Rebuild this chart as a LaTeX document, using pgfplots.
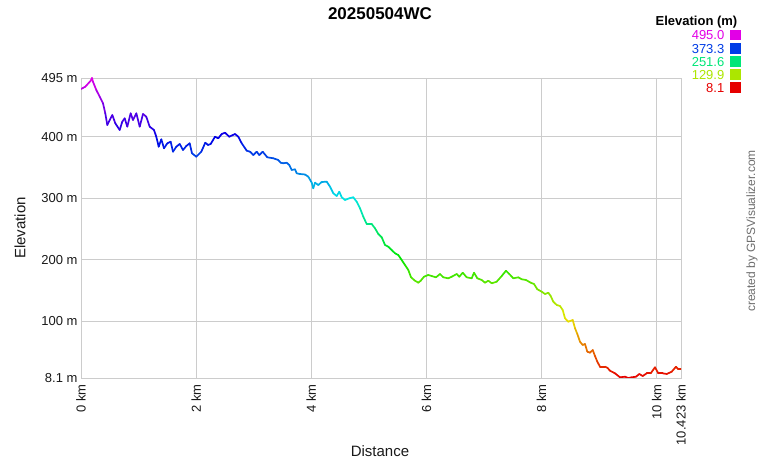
\documentclass[border=0pt]{standalone}
\usepackage{pgfplots}
\pgfplotsset{compat=1.18}
\usepackage{pgfplotstable}
\usepackage{fontspec}
\setmainfont{Liberation Sans}
\definecolor{gridgray}{RGB}{204,204,204}
\definecolor{txtgray}{RGB}{25,25,25}
\definecolor{credgray}{RGB}{110,110,110}
\definecolor{lgA}{RGB}{226,0,230}
\definecolor{lgB}{RGB}{0,60,230}
\definecolor{lgC}{RGB}{0,230,120}
\definecolor{lgD}{RGB}{172,230,0}
\definecolor{lgE}{RGB}{230,0,0}

\pgfplotstableread{
km m
0.000 477.1
0.075 480.9
0.169 490.6
0.191 495.0
0.208 489.0
0.266 475.5
0.325 464.6
0.382 453.9
0.422 437.7
0.457 418.7
0.499 426.8
0.544 434.9
0.596 421.5
0.672 410.6
0.717 424.1
0.759 429.6
0.804 416.0
0.863 437.7
0.903 426.8
0.961 437.7
1.020 416.0
1.077 436.6
1.134 432.2
1.193 416.0
1.268 410.6
1.308 399.7
1.350 383.5
1.395 395.5
1.442 380.9
1.499 389.0
1.558 391.6
1.598 375.4
1.656 383.5
1.715 387.9
1.772 378.1
1.829 384.6
1.888 389.0
1.928 372.8
2.003 367.3
2.090 375.4
2.159 390.0
2.206 386.3
2.253 387.9
2.328 399.7
2.385 397.1
2.444 404.1
2.502 406.2
2.576 399.7
2.675 404.1
2.733 399.7
2.792 389.0
2.879 377.0
2.936 375.4
2.993 370.0
3.052 375.4
3.097 370.0
3.156 375.4
3.236 366.3
3.341 364.7
3.427 361.9
3.469 357.5
3.514 356.6
3.573 357.5
3.619 353.8
3.660 345.7
3.718 346.8
3.747 340.3
3.804 339.2
3.891 338.4
3.949 334.8
4.008 325.1
4.035 316.0
4.065 325.1
4.122 321.3
4.181 326.2
4.268 326.7
4.326 318.6
4.383 307.9
4.442 303.5
4.487 310.5
4.529 301.4
4.586 297.0
4.661 299.8
4.730 301.4
4.789 294.2
4.847 283.5
4.904 269.9
4.963 258.0
5.050 258.0
5.107 251.1
5.165 241.8
5.224 236.5
5.281 224.0
5.338 221.2
5.397 215.8
5.455 210.5
5.512 207.7
5.571 199.6
5.628 191.5
5.686 183.4
5.733 171.5
5.802 166.0
5.860 162.8
5.901 166.0
5.959 172.5
6.033 175.3
6.092 173.6
6.167 171.5
6.237 176.9
6.294 171.5
6.381 169.9
6.440 172.5
6.527 176.9
6.572 172.5
6.631 179.0
6.700 171.5
6.787 169.9
6.827 179.0
6.885 169.9
6.961 167.2
7.018 162.8
7.076 166.0
7.135 161.8
7.221 164.4
7.308 173.6
7.383 182.2
7.440 176.9
7.510 169.9
7.597 171.5
7.656 168.3
7.730 167.2
7.812 162.8
7.869 160.7
7.927 152.1
8.003 148.2
8.061 144.4
8.118 146.5
8.159 141.2
8.205 131.9
8.264 126.6
8.321 125.0
8.368 118.5
8.408 105.0
8.465 99.5
8.542 102.2
8.582 88.8
8.622 79.5
8.668 67.0
8.715 61.7
8.755 63.3
8.795 50.8
8.842 49.2
8.889 53.5
8.929 43.8
8.969 34.6
9.016 26.4
9.103 26.4
9.143 24.8
9.190 19.9
9.276 15.7
9.363 9.2
9.450 10.2
9.508 8.1
9.567 9.2
9.641 10.2
9.699 14.6
9.758 11.3
9.827 15.7
9.897 15.7
9.971 25.5
10.029 15.7
10.105 15.7
10.174 14.6
10.261 18.3
10.336 26.4
10.376 22.2
10.423 22.2
}\track

\begin{document}
\begin{tikzpicture}[x=1pt,y=1pt]
\path[use as bounding box] (0,0) rectangle (760,460);
\begin{axis}[
  at={(81pt,82pt)}, anchor=south west,
  scale only axis, width=600pt, height=300pt,
  xmin=0, xmax=10.423, ymin=8.1, ymax=495,
  axis line style={draw=gridgray, line width=0.9pt},
  grid=major, major grid style={draw=gridgray, line width=0.9pt},
  major tick length=0pt,
  xtick={0,2,4,6,8,10,10.423},
  xticklabels={0 km,2 km,4 km,6 km,8 km,10 km,10.423 km},
  ytick={8.1,100,200,300,400,495},
  yticklabels={8.1 m,100 m,200 m,300 m,400 m,495 m},
  ticklabel style={font=\fontsize{13}{15}\selectfont, text=txtgray},
  xticklabel style={rotate=90, anchor=east},
  xticklabel shift=3pt,
  colormap={gps}{rgb255(0)=(230,0,0) rgb255(1)=(230,230,0) rgb255(2)=(0,230,0) rgb255(3)=(0,230,230) rgb255(4)=(0,0,230) rgb255(5)=(230,0,230)},
  point meta min=8.1, point meta max=495,
]
\addplot[mesh, point meta=y, line width=1.7pt, line join=round, line cap=round] table[x=km, y=m] {\track};
\end{axis}
% title and axis labels
\node[font=\fontsize{17}{20}\selectfont\bfseries, anchor=base] at (380,440) {20250504WC};
\node[font=\fontsize{15}{18}\selectfont, text=txtgray, rotate=90] at (20,232) {Elevation};
\node[font=\fontsize{15}{18}\selectfont, text=txtgray] at (380,9) {Distance};
% legend
\node[font=\fontsize{13}{15}\selectfont\bfseries, anchor=east, inner sep=0pt] at (737.5,438.3) {Elevation (m)};
\foreach \v/\c/\yy in {495.0/lgA/424.5, 373.3/lgB/411.3, 251.6/lgC/398.0, 129.9/lgD/385.0, 8.1/lgE/372.0}{
  \node[font=\fontsize{13}{15}\selectfont, text=\c, anchor=east, inner sep=0pt] at (724.5,\yy) {\v};
  \fill[\c] (730,\yy-5) rectangle (741,\yy+5.5);
}
% credit
\node[font=\fontsize{12}{14}\selectfont, text=credgray, rotate=90] at (752,229) {created by GPSVisualizer.com};
\end{tikzpicture}
\end{document}
